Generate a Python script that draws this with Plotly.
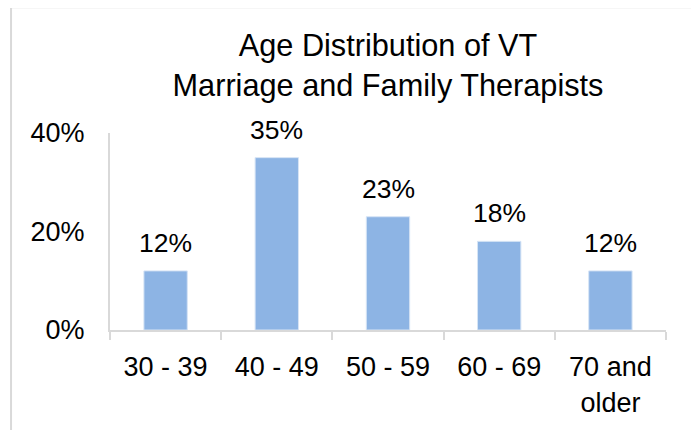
import plotly.graph_objects as go

categories = ["30 - 39", "40 - 49", "50 - 59", "60 - 69", "70 and<br>older"]
values = [12, 35, 23, 18, 12]
labels = ["12%", "35%", "23%", "18%", "12%"]
y_ticks = [0, 20, 40]
y_tick_text = ["0%", "20%", "40%"]
title_text = "Age Distribution of VT<br>Marriage and Family Therapists"

BAR = "#8DB4E4"
GRID = "#D9D9D9"
FONT = "Liberation Sans, Arial, sans-serif"

# page body has an 8px margin, so the figure is laid out 8px up/left
W, H = 691, 422
L, T = 102, 125
PW, PH = 556, 199

fig = go.Figure()
fig.add_trace(go.Bar(
    x=categories, y=values, width=0.39,
    marker=dict(color=BAR, line=dict(color="#D6E4F5", width=1)),
    hoverinfo="skip",
))

for c, v, t in zip(categories, values, labels):
    fig.add_annotation(x=c, y=v, text=t, showarrow=False, yanchor="middle",
                       yshift=28, font=dict(family=FONT, size=26.5, color="#000000"))

fig.add_shape(type="rect", xref="paper", yref="paper",
              x0=-0.178, x1=1.050, y0=-0.6, y1=1.638,
              line=dict(color=GRID, width=2), fillcolor="rgba(0,0,0,0)", layer="below")

fig.update_layout(
    width=W, height=H,
    margin=dict(l=L, r=W - L - PW, t=T, b=H - T - PH),
    paper_bgcolor="white", plot_bgcolor="white",
    showlegend=False,
    title=dict(text=title_text, x=0.5, xref="paper", y=1 - 48 / H, yref="container",
               xanchor="center", yanchor="middle",
               font=dict(family=FONT, size=30.7, color="#000000")),
    font=dict(family=FONT, size=27, color="#000000"),
    xaxis=dict(showline=True, linecolor=GRID, linewidth=2, ticks="outside",
               tickson="boundaries", ticklen=8, tickcolor=GRID, tickwidth=2,
               showgrid=False, tickfont=dict(size=27, color="#000000"),
               ticklabelstandoff=12, fixedrange=True),
    yaxis=dict(range=[0, 40], tickvals=y_ticks, ticktext=y_tick_text,
               showline=True, linecolor=GRID, linewidth=2, ticks="",
               showgrid=False, zeroline=False, ticklabelstandoff=18,
               tickfont=dict(size=27, color="#000000"), fixedrange=True),
    bargap=0.61,
)

fig.write_html("out.html")
